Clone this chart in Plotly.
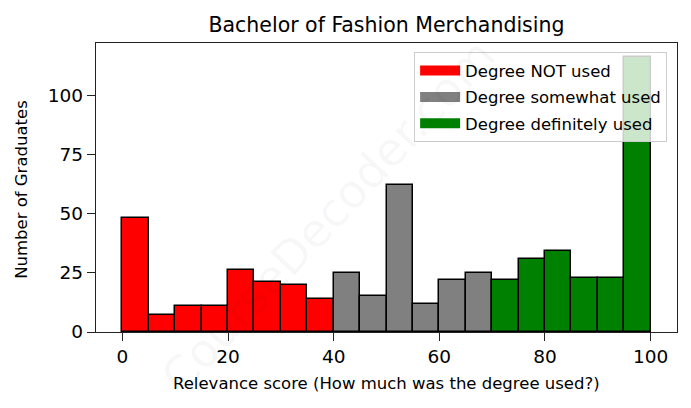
import plotly.graph_objects as go

# histogram of relevance scores, 5-point bins
bin_left = [0, 5, 10, 15, 20, 25, 30, 35, 40, 45, 50, 55, 60, 65, 70, 75, 80, 85, 90, 95]
counts = [48, 7, 11, 11, 26, 21, 20, 14, 25, 15, 62, 12, 22, 25, 22, 31, 34, 23, 23, 116]
groups = ["not"] * 8 + ["somewhat"] * 6 + ["definitely"] * 6

group_names = {
    "not": "Degree NOT used",
    "somewhat": "Degree somewhat used",
    "definitely": "Degree definitely used",
}
group_colors = {"not": "#ff0000", "somewhat": "#808080", "definitely": "#008000"}

BIN_W = 5
FONT = "DejaVu Sans"

fig = go.Figure()
for key in ["not", "somewhat", "definitely"]:
    xs = [b + BIN_W / 2 for b, g in zip(bin_left, groups) if g == key]
    ys = [c for c, g in zip(counts, groups) if g == key]
    fig.add_trace(
        go.Bar(
            x=xs,
            y=ys,
            width=BIN_W,
            showlegend=False,
            marker=dict(color=group_colors[key], line=dict(color="black", width=1.5)),
        )
    )
    # legend-only entry so the key shows a flat patch like matplotlib
    fig.add_trace(
        go.Scatter(
            x=[None],
            y=[None],
            mode="lines",
            name=group_names[key],
            legendgroup=key,
            line=dict(color=group_colors[key], width=12),
        )
    )

axis_common = dict(
    showline=True,
    linecolor="#222",
    linewidth=1.3,
    mirror=True,
    ticks="outside",
    ticklen=8,
    tickwidth=1.3,
    tickcolor="#222",
    showgrid=False,
    zeroline=False,
    automargin=False,
    tickfont=dict(family=FONT, size=18.5, color="black"),
)

fig.update_layout(
    width=691,
    height=408,
    paper_bgcolor="white",
    plot_bgcolor="white",
    margin=dict(l=96, r=14, t=43, b=76),
    bargap=0,
    barmode="overlay",
    font=dict(family=FONT, color="black"),
    title=dict(
        text="Bachelor of Fashion Merchandising",
        x=0.5593,
        xanchor="center",
        xref="container",
        y=0.94,
        yanchor="middle",
        font=dict(family=FONT, size=20.5, color="black"),
    ),
    xaxis=dict(range=[-5, 105], tickvals=[0, 20, 40, 60, 80, 100], **axis_common),
    yaxis=dict(range=[0, 122], tickvals=[0, 25, 50, 75, 100], **axis_common),
    legend=dict(
        x=0.983,
        y=0.968,
        xanchor="right",
        yanchor="top",
        bgcolor="rgba(255,255,255,0.8)",
        bordercolor="#cccccc",
        borderwidth=1,
        font=dict(family=FONT, size=16.5, color="black"),
        itemwidth=40,
        tracegroupgap=2,
    ),
)

# axis titles
fig.add_annotation(
    text="Relevance score (How much was the degree used?)",
    xref="paper", yref="paper", x=0.5, y=-0.1775,
    xanchor="center", yanchor="middle", showarrow=False,
    font=dict(family=FONT, size=16.5, color="black"),
)
fig.add_annotation(
    text="Number of Graduates",
    xref="paper", yref="paper", x=-0.128, y=0.494,
    xanchor="center", yanchor="middle", showarrow=False, textangle=-90,
    font=dict(family=FONT, size=16.5, color="black"),
)

# faint watermark
fig.add_annotation(
    text="CourseDecoder.com",
    xref="paper", yref="paper", x=0.40, y=0.40,
    showarrow=False, textangle=-47,
    font=dict(family=FONT, size=46, color="rgba(0,0,0,0.04)"),
)

# drop the browser's default 8px body margin so the figure sits at the page origin
fig.write_html(
    "out.html",
    config={"displayModeBar": False},
    post_script="document.body.style.margin='0';",
)
